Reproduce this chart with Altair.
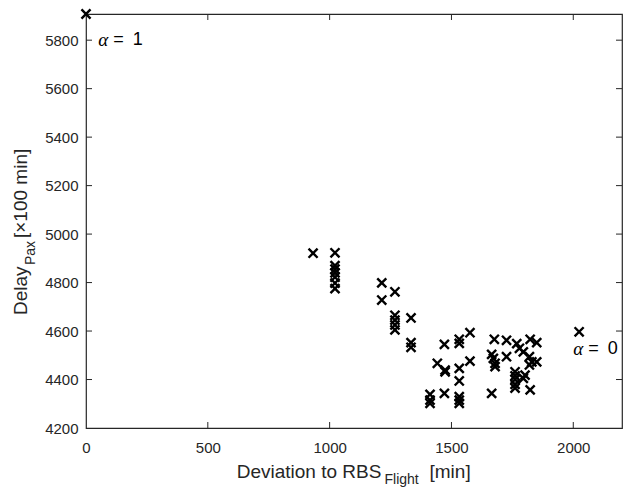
import altair as alt
import pandas as pd

# ---- data ----
dev_x = [0, 932,
         1022, 1022, 1022, 1022, 1022, 1022, 1022,
         1214, 1214, 1268,
         1268, 1268, 1268, 1268,
         1334, 1334, 1334,
         1412, 1412, 1412, 1442, 1471, 1474, 1474, 1471,
         1532, 1532, 1532, 1532, 1532, 1532, 1532,
         1576, 1576,
         1665, 1672, 1679, 1679, 1676, 1665,
         1726, 1726, 1768, 1779, 1795, 1823, 1850,
         1820, 1830, 1850, 1820,
         1761, 1761, 1761, 1761, 1761, 1795, 1802, 1823,
         2024]
delay_y = [5908, 4921,
           4923, 4870, 4855, 4840, 4822, 4798, 4775,
           4799, 4728, 4762,
           4665, 4645, 4625, 4605,
           4654, 4552, 4533,
           4339, 4315, 4302, 4467, 4545, 4439, 4432, 4343,
           4566, 4549, 4446, 4394, 4329, 4315, 4302,
           4593, 4476,
           4504, 4487, 4467, 4453, 4566, 4343,
           4562, 4494, 4548, 4529, 4514, 4566, 4552,
           4494, 4473, 4473, 4460,
           4432, 4415, 4400, 4380, 4365, 4405, 4418, 4357,
           4597]

x_ticks = [0, 500, 1000, 1500, 2000]
y_ticks = [4200, 4400, 4600, 4800, 5000, 5200, 5400, 5600, 5800]

W, H = 536, 414
AX = "#262626"
FONT = "Liberation Sans"

df = pd.DataFrame({"x": dev_x, "y": delay_y})
xs = alt.Scale(domain=[0, 2200], nice=False, zero=False)
ys = alt.Scale(domain=[4200, 5908], nice=False, zero=False)

points = alt.Chart(df).mark_point(
    shape="M-1,-1L1,1M-1,1L1,-1", filled=False, color="black",
    strokeWidth=2.4, size=82, opacity=1
).encode(
    x=alt.X("x:Q", scale=xs, axis=alt.Axis(
        values=x_ticks, format="d", title=None, grid=False, domain=False,
        ticks=False, labelFontSize=15, labelFont=FONT, labelColor=AX,
        labelPadding=12, labelFlush=False)),
    y=alt.Y("y:Q", scale=ys, axis=alt.Axis(
        values=y_ticks, format="d", title=None, grid=False, domain=False,
        ticks=False, labelFontSize=15, labelFont=FONT, labelColor=AX,
        labelPadding=8, labelFlush=False)),
)

xt = pd.DataFrame({"v": x_ticks[1:]})
yt = pd.DataFrame({"v": y_ticks[1:]})
tick_style = dict(color=AX, strokeWidth=1)
xb = alt.Chart(xt).mark_rule(**tick_style).encode(
    x=alt.X("v:Q", scale=xs), y=alt.value(H), y2=alt.value(H - 6))
xtp = alt.Chart(xt).mark_rule(**tick_style).encode(
    x=alt.X("v:Q", scale=xs), y=alt.value(0), y2=alt.value(6))
yl = alt.Chart(yt).mark_rule(**tick_style).encode(
    y=alt.Y("v:Q", scale=ys), x=alt.value(0), x2=alt.value(6))
yr = alt.Chart(yt).mark_rule(**tick_style).encode(
    y=alt.Y("v:Q", scale=ys), x=alt.value(W), x2=alt.value(W - 6))

one = pd.DataFrame({"a": [0]})


def txt(s, x, y, size, angle=0, color=AX, font=FONT, style="normal"):
    kw = dict(text=s, align="left", baseline="alphabetic", fontSize=size,
              font=font, color=color, fontStyle=style)
    if angle:
        kw["angle"] = angle
    return alt.Chart(one).mark_text(**kw).encode(x=alt.value(x), y=alt.value(y))


# axis titles (with subscripts), positions relative to plot origin (86, 14)
titles = [
    txt("Deviation to RBS", 150.7, 463.7, 19),
    txt("Flight", 298.5, 470, 14),
    txt("[min]", 343.5, 463.7, 19),
    txt("Delay", -59, 301, 19, angle=270),
    txt("Pax", -51, 251, 14, angle=270),
    txt("[×100 min]", -59, 224, 19, angle=270),
]

# annotations alpha = 1 / alpha = 0
ann_x = [50, 2000]
ann_y = [5800, 4525]
ann_v = ["1", "0"]
ann = pd.DataFrame({"x": ann_x, "y": ann_y, "v": ann_v})
alpha = alt.Chart(ann).mark_text(
    text="α", align="left", baseline="middle", fontSize=19,
    font="Liberation Serif", fontStyle="italic", color="black"
).encode(x=alt.X("x:Q", scale=xs), y=alt.Y("y:Q", scale=ys))
eq = alt.Chart(ann).mark_text(
    text="=", align="left", baseline="middle", fontSize=18, dx=15,
    font=FONT, color="black"
).encode(x=alt.X("x:Q", scale=xs), y=alt.Y("y:Q", scale=ys))
val = alt.Chart(ann).mark_text(
    align="left", baseline="middle", fontSize=18, dx=34.5,
    font=FONT, color="black"
).encode(x=alt.X("x:Q", scale=xs), y=alt.Y("y:Q", scale=ys), text="v:N")

chart = alt.layer(
    xb, xtp, yl, yr, points, alpha, eq, val, *titles
).properties(
    width=W, height=H,
    autosize=alt.AutoSizeParams(type="none"),
    padding={"left": 86, "top": 14, "right": 1, "bottom": 59},
    background="white",
).configure_view(
    stroke=AX, strokeWidth=1.2
)

chart.save("out.html", embed_options={"renderer": "svg", "actions": False})
